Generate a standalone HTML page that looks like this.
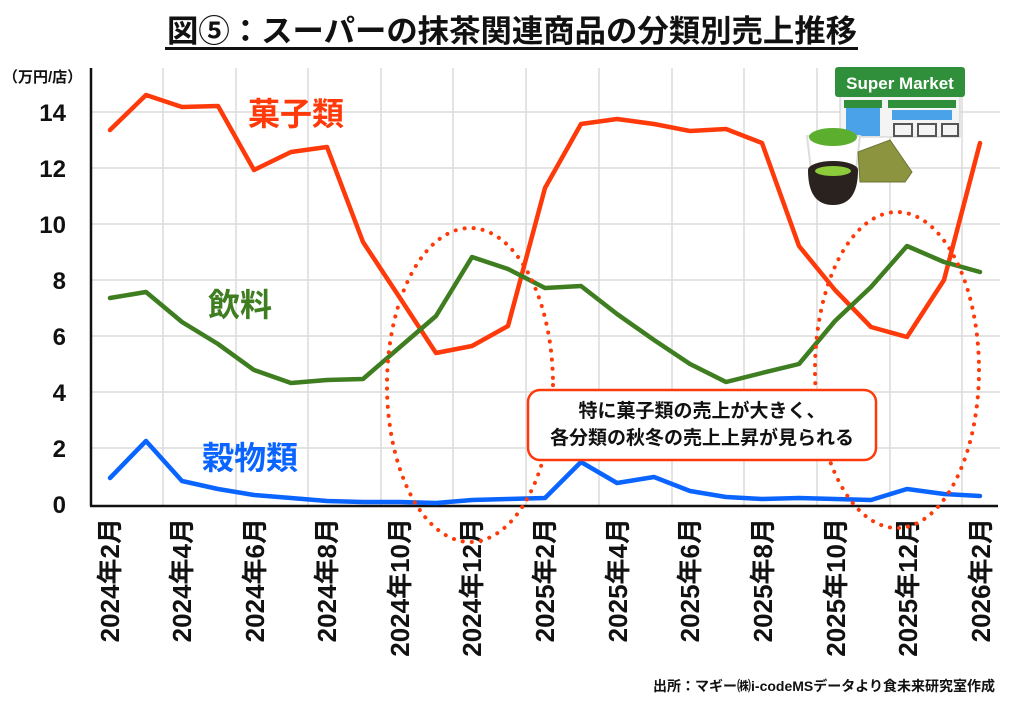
<!DOCTYPE html>
<html><head><meta charset="utf-8"><style>
html,body{margin:0;padding:0;background:#fff;}
svg{display:block;font-family:"Liberation Sans","Noto Sans CJK JP",sans-serif;}
</style></head><body>
<svg width="1024" height="709" viewBox="0 0 1024 709" xmlns="http://www.w3.org/2000/svg">
<rect width="1024" height="709" fill="#fff"/>
<!-- title -->
<text x="512" y="42" font-size="31" font-weight="bold" text-anchor="middle" textLength="690" lengthAdjust="spacingAndGlyphs" fill="#111">図⑤：スーパーの抹茶関連商品の分類別売上推移</text>
<rect x="165" y="47" width="693" height="3" fill="#111"/>
<!-- grid -->
<g stroke="#dcdcdc" stroke-width="1.5">
<line x1="91" y1="448" x2="1000" y2="448"/>
<line x1="91" y1="392" x2="1000" y2="392"/>
<line x1="91" y1="336" x2="1000" y2="336"/>
<line x1="91" y1="280" x2="1000" y2="280"/>
<line x1="91" y1="224" x2="1000" y2="224"/>
<line x1="91" y1="168" x2="1000" y2="168"/>
<line x1="91" y1="112" x2="1000" y2="112"/>
<line x1="163" y1="68" x2="163" y2="506"/><line x1="236" y1="68" x2="236" y2="506"/>
<line x1="308" y1="68" x2="308" y2="506"/><line x1="381" y1="68" x2="381" y2="506"/>
<line x1="453" y1="68" x2="453" y2="506"/><line x1="526" y1="68" x2="526" y2="506"/>
<line x1="599" y1="68" x2="599" y2="506"/><line x1="672" y1="68" x2="672" y2="506"/>
<line x1="744" y1="68" x2="744" y2="506"/><line x1="817" y1="68" x2="817" y2="506"/>
<line x1="890" y1="68" x2="890" y2="506"/><line x1="962" y1="68" x2="962" y2="506"/>
</g>
<!-- axes -->
<line x1="91" y1="68" x2="91" y2="506" stroke="#111" stroke-width="2.5"/>
<line x1="90" y1="506" x2="998" y2="506" stroke="#111" stroke-width="2.5"/>
<!-- y labels -->
<text x="3" y="82" font-size="15" font-weight="bold" fill="#111">（万円/店）</text>
<g font-size="24" font-weight="bold" text-anchor="end" fill="#111">
<text x="66" y="121">14</text><text x="66" y="177">12</text><text x="66" y="233">10</text>
<text x="66" y="289">8</text><text x="66" y="345">6</text><text x="66" y="401">4</text>
<text x="66" y="457">2</text><text x="66" y="513">0</text>
</g>
<!-- x labels -->
<g font-size="26" font-weight="bold" text-anchor="end" fill="#111">
<text transform="translate(119,518) rotate(-90)">2024年2月</text>
<text transform="translate(191,518) rotate(-90)">2024年4月</text>
<text transform="translate(264,518) rotate(-90)">2024年6月</text>
<text transform="translate(336,518) rotate(-90)">2024年8月</text>
<text transform="translate(409,518) rotate(-90)">2024年10月</text>
<text transform="translate(481,518) rotate(-90)">2024年12月</text>
<text transform="translate(554,518) rotate(-90)">2025年2月</text>
<text transform="translate(627,518) rotate(-90)">2025年4月</text>
<text transform="translate(699,518) rotate(-90)">2025年6月</text>
<text transform="translate(772,518) rotate(-90)">2025年8月</text>
<text transform="translate(845,518) rotate(-90)">2025年10月</text>
<text transform="translate(917,518) rotate(-90)">2025年12月</text>
<text transform="translate(990,518) rotate(-90)">2026年2月</text>
</g>
<!-- series -->
<g fill="none" stroke-width="4.5" stroke-linejoin="round" stroke-linecap="round">
<polyline stroke="#ff3a0a" points="110,130 146,95 182,107 218,106 254,170 291,152 327,147 363,242 400,298 436,353 472,346 508,326 545,188 581,124 617,119 654,124 690,131 726,129 762,143 799,246 835,290 871,327 907,337 944,280 980,143"/>
<polyline stroke="#3e7d20" points="110,298 146,292 182,322 218,344 254,370 291,383 327,380 363,379 400,347 436,316 472,257 508,269 545,288 581,286 617,314 654,340 690,364 726,382 762,373 799,364 835,321 871,287 907,246 944,262 980,272"/>
<polyline stroke="#0a64ff" points="110,478 146,441 182,481 218,489 254,495 291,498 327,501 363,502 400,502 436,503 472,500 508,499 545,498 581,462 617,483 654,477 690,491 726,497 762,499 799,498 835,499 871,500 907,489 944,494 980,496"/>
</g>
<!-- series labels -->
<text x="248" y="125" font-size="32" font-weight="bold" fill="#ff3a0a">菓子類</text>
<text x="208" y="316" font-size="32" font-weight="bold" fill="#3e7d20">飲料</text>
<text x="202" y="469" font-size="32" font-weight="bold" fill="#0a64ff">穀物類</text>
<!-- dotted ellipses -->
<ellipse cx="470" cy="385" rx="83" ry="157" fill="none" stroke="#ff3a0a" stroke-width="4" stroke-dasharray="0.1 9" stroke-linecap="round"/>
<ellipse cx="897" cy="370" rx="82" ry="158" fill="none" stroke="#ff3a0a" stroke-width="4" stroke-dasharray="0.1 9" stroke-linecap="round"/>
<!-- annotation -->
<rect x="528" y="390" width="348" height="70" rx="12" fill="#fff" stroke="#ff3a0a" stroke-width="2.5"/>
<g font-size="19" font-weight="bold" text-anchor="middle" fill="#111">
<text x="702" y="417">特に菓子類の売上が大きく、</text>
<text x="702" y="444">各分類の秋冬の売上上昇が見られる</text>
</g>
<!-- illustration -->
<rect x="840" y="95" width="120" height="42" fill="#f4f4f4" stroke="#ccc"/>
<rect x="835" y="67" width="130" height="30" rx="3" fill="#2f8f3a"/>
<text x="900" y="89" font-size="17" font-weight="bold" fill="#fff" text-anchor="middle">Super Market</text>
<rect x="844" y="100" width="38" height="8" fill="#2f8f3a"/>
<rect x="888" y="100" width="68" height="8" fill="#2f8f3a"/>
<rect x="846" y="108" width="34" height="28" fill="#4aa3e8"/>
<rect x="892" y="110" width="60" height="10" fill="#4aa3e8"/>
<g stroke="#555" stroke-width="2" fill="none">
<rect x="894" y="124" width="18" height="12"/><rect x="918" y="124" width="18" height="12"/><rect x="942" y="124" width="16" height="12"/>
</g>
<path d="M807,136 L860,136 L856,170 L811,170 Z" fill="#fff" stroke="#ddd" stroke-width="2"/>
<ellipse cx="833" cy="137" rx="24" ry="9" fill="#5cae2e"/>
<path d="M858,152 L890,140 L912,172 L905,182 L860,182 Z" fill="#8c9440" stroke="#6e7530"/>
<path d="M808,170 Q808,205 833,205 Q858,205 858,170 Z" fill="#2a221e"/>
<ellipse cx="833" cy="170" rx="25" ry="9" fill="#2a221e"/>
<ellipse cx="833" cy="171" rx="18" ry="5" fill="#8ccb3a"/>
<!-- source -->
<text x="995" y="691" font-size="14" font-weight="bold" text-anchor="end" fill="#111">出所：マギー㈱i-codeMSデータより食未来研究室作成</text>
</svg>
</body></html>
